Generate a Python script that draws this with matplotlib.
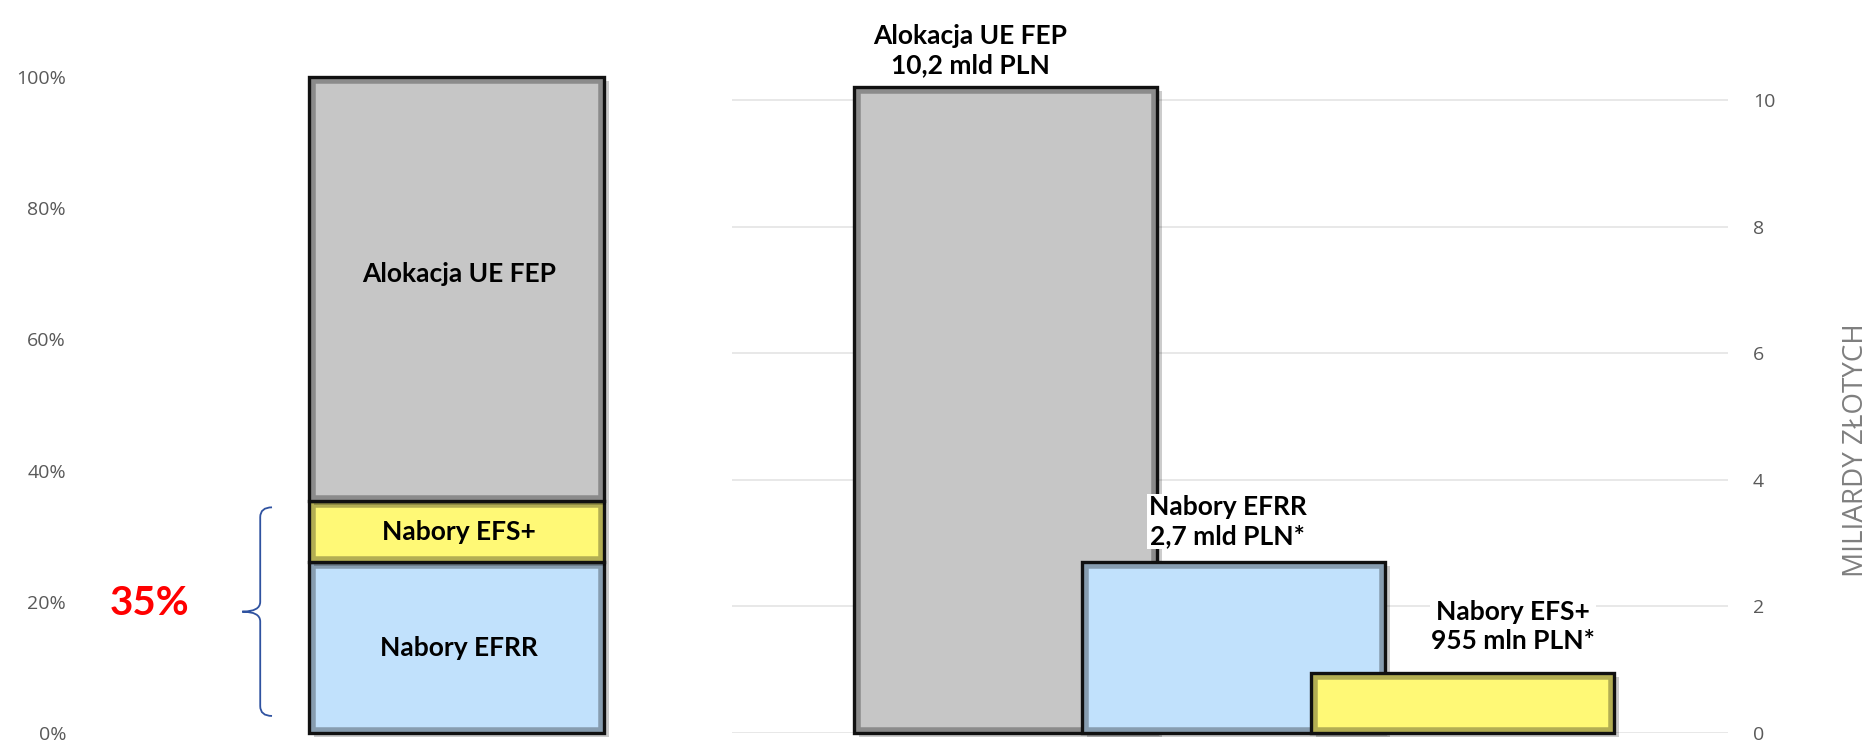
import matplotlib.pyplot as plt
import matplotlib.transforms as mtransforms
from matplotlib.patches import Rectangle, PathPatch
from matplotlib.path import Path
from matplotlib.colors import to_rgb

# left chart: shares of the EU FEP allocation (percent), stacked bottom-up
share_labels = ['Nabory EFRR', 'Nabory EFS+', 'Alokacja UE FEP']
share_values = [26.0, 9.4, 64.6]
share_colors = ['#C1E1FC', '#FFF976', '#C6C6C6']
pct_ticks = [0, 20, 40, 60, 80, 100]

# right chart: amounts in billions of PLN
amount_names = ['Alokacja UE FEP', 'Nabory EFRR', 'Nabory EFS+']
amount_values = [10.2, 2.7, 0.955]
amount_texts = ['10,2 mld PLN', '2,7 mld PLN*', '955 mln PLN*']
amount_colors = ['#C6C6C6', '#C1E1FC', '#FFF976']
bln_ticks = [0, 2, 4, 6, 8, 10]

W, H = 1869, 745
fig = plt.figure(figsize=(W / 100, H / 100), dpi=100)


def px_box(x0, y0, x1, y1):
    # pixel box (top-left origin) -> figure fraction rect
    return [x0 / W, 1 - y1 / H, (x1 - x0) / W, (y1 - y0) / H]


def dress_bar(ax, bar, z):
    fc = to_rgb(bar.get_facecolor())
    dark = tuple(c * 0.7 for c in fc)
    xy, w, h = bar.get_xy(), bar.get_width(), bar.get_height()
    shadow_tr = mtransforms.offset_copy(ax.transData, fig, x=5, y=-4, units='dots')
    ax.add_patch(Rectangle(xy, w, h, transform=shadow_tr, facecolor='#000000',
                           alpha=0.2, edgecolor='none', zorder=z - 0.5, clip_on=False))
    # inner bevel band, kept inside the bar
    band = Rectangle(xy, w, h, fill=False, edgecolor=dark, lw=9, zorder=z + 0.1)
    ax.add_patch(band)
    band.set_clip_path(bar)
    ax.add_patch(Rectangle(xy, w, h, fill=False, edgecolor='#111111', lw=2.4,
                           zorder=z + 0.2, clip_on=False))


# ---------- left: 100% stacked bar ----------
axl = fig.add_axes(px_box(80, 77, 700, 733))
axl.set_xlim(-1.275, 0.827)
axl.set_ylim(0, 100)
bottom = 0
for i, (lab, val, col) in enumerate(zip(share_labels, share_values, share_colors)):
    z = 3 + i
    b = axl.bar(0, val, width=1.0, bottom=bottom, color=col, edgecolor='none',
                zorder=z, clip_on=False)[0]
    dress_bar(axl, b, z)
    ty = bottom + val / 2 if i < 2 else 70
    axl.text(0.01, ty, lab, ha='center', va='center', fontsize=19,
             fontweight='bold', family=['Lato', 'DejaVu Sans'], zorder=10)
    bottom += val

axl.set_yticks(pct_ticks)
axl.set_yticklabels([f'{t}%' for t in pct_ticks])
axl.tick_params(axis='y', length=0, pad=10, labelsize=14, labelcolor='#595959')
for lbl in axl.get_yticklabels():
    lbl.set_family(['Open Sans', 'DejaVu Sans'])
axl.set_xticks([])
for s in axl.spines.values():
    s.set_visible(False)

# brace spanning the two calls
total_calls = share_values[0] + share_values[1]
b_top, b_bot = total_calls - 1.0, 2.6
b_mid = (b_top + b_bot) / 2
xr, xv, xt = -0.624, -0.664, -0.725
verts = [(xr, b_top), (xv, b_top), (xv, b_top - 1.5),
         (xv, b_mid + 1.5), (xv, b_mid), (xt, b_mid),
         (xv, b_mid), (xv, b_mid - 1.5),
         (xv, b_bot + 1.5), (xv, b_bot), (xr, b_bot)]
codes = [Path.MOVETO, Path.CURVE3, Path.CURVE3,
         Path.LINETO, Path.CURVE3, Path.CURVE3,
         Path.CURVE3, Path.CURVE3,
         Path.LINETO, Path.CURVE3, Path.CURVE3]
axl.add_patch(PathPatch(Path(verts, codes), fill=False, edgecolor='#2F52A0',
                        lw=1.3, clip_on=False))
axl.text(-1.04, 19.8, f'{round(total_calls)}%', ha='center', va='center',
         fontsize=29, fontweight='bold', color='#FF0000',
         family=['Lato', 'DejaVu Sans'])

# ---------- right: overlapping bars ----------
axr = fig.add_axes(px_box(732, 0, 1728, 733))
axr.set_xlim(-1.195, 3.164)
axr.set_ylim(0, 11.58)
xs = list(range(len(amount_values)))
dxs = [-35, -6, 51]
dys = [10, 14, 20]
for i, (x, v, col) in enumerate(zip(xs, amount_values, amount_colors)):
    z = 3 + i
    b = axr.bar(x, v, width=1.326, color=col, edgecolor='none', zorder=z, clip_on=False)[0]
    dress_bar(axr, b, z)
    axr.annotate(f'{amount_names[i]}\n{amount_texts[i]}', xy=(x, v),
                 xytext=(dxs[i], dys[i]), textcoords='offset pixels',
                 ha='center', va='bottom', fontsize=19, fontweight='bold',
                 linespacing=1.25, family=['Lato', 'DejaVu Sans'],
                 bbox=dict(fc='white', ec='none', pad=1), zorder=10)

axr.set_yticks(bln_ticks)
axr.yaxis.tick_right()
axr.tick_params(axis='y', length=0, pad=18, labelsize=14, labelcolor='#595959')
for lbl in axr.get_yticklabels():
    lbl.set_family(['Open Sans', 'DejaVu Sans'])
axr.set_xticks([])
axr.grid(axis='y', color='#E8E8E8', lw=1.4, zorder=0)
axr.set_axisbelow(True)
for s in axr.spines.values():
    s.set_visible(False)

fig.text(1856 / W, 1 - 450 / H, 'MILIARDY ZŁOTYCH', rotation=90, ha='center',
         va='center', fontsize=20, color='#7F7F7F', family=['Open Sans', 'DejaVu Sans'])

fig.savefig('out.png', dpi=100)
